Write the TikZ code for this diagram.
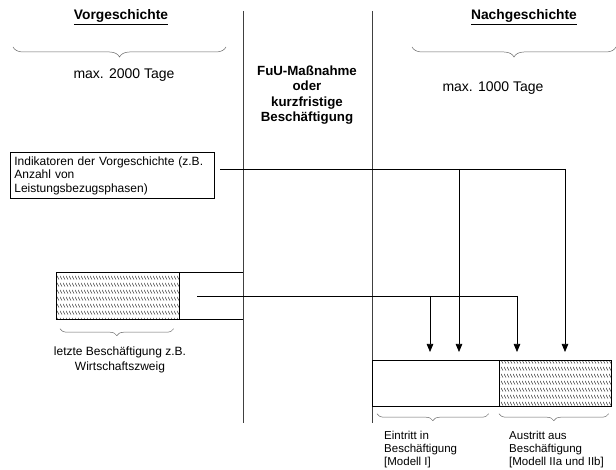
\documentclass[tikz,border=0pt]{standalone}
\usepackage{fontspec}
\setmainfont{Liberation Sans}
\usepackage{tikz}
\usetikzlibrary{arrows.meta,positioning,calc,decorations.pathreplacing,patterns}
\pgfdeclarepatternformonly{rowhatch}{\pgfpointorigin}{\pgfqpoint{3pt}{7pt}}{\pgfqpoint{3pt}{7pt}}{
  \pgfsetlinewidth{0.6pt}
  \pgfpathmoveto{\pgfqpoint{0pt}{5.8pt}}
  \pgfpathlineto{\pgfqpoint{2.6pt}{1.6pt}}
  \pgfusepath{stroke}}
\newcommand{\figtxt}{\fontsize{12}{13.5}\selectfont}
\newcommand{\figsml}{\fontsize{11.5}{13}\selectfont}
\newcommand{\figbig}{\fontsize{14}{16}\selectfont}
\newcommand{\figmid}{\fontsize{13.3}{15.5}\selectfont\bfseries}
\tikzset{
  >={Triangle[length=8pt,width=6.5pt]},
  bar/.style   ={rectangle, draw, line width=0.7pt, inner sep=0pt,
                 minimum height=47pt},
  hatchbar/.style={bar, pattern=rowhatch, pattern color=black!80},
  ibox/.style  ={rectangle, draw, line width=0.7pt, inner sep=4pt,
                 font=\figtxt, align=left, text width=196pt,
                 minimum height=46pt},
  lbl/.style   ={font=\figbig, align=center, inner sep=1pt},
  note/.style  ={font=\figsml, align=left, inner sep=1pt},
  head/.style  ={font=\fontsize{13.8}{16}\selectfont\bfseries, inner sep=1pt},
  mid/.style   ={font=\figmid, align=center, inner sep=1pt},
  sep/.style   ={draw, line width=0.6pt, black!75},
  ln/.style    ={draw, line width=0.7pt},
  con/.style   ={->, draw, line width=0.7pt},
  brc/.style   ={draw, line width=0.5pt, black!60, decorate,
                 decoration={brace, mirror, amplitude=#1}},
  brc/.default=10pt,
}
\begin{document}
\begin{tikzpicture}[x=1pt,y=-1pt]
\useasboundingbox (0,0) rectangle (616,470);
\coordinate (s1t) at (243,11); \coordinate (s1b) at (243,423);
\coordinate (s2t) at (372,11); \coordinate (s2b) at (372,423);
\draw[sep] (s1t) -- (s1b);
\draw[sep] (s2t) -- (s2b);
\node[head] (vor)  at (121,17) {\underline{Vorgeschichte}};
\node[head] (nach) at (524,17) {\underline{Nachgeschichte}};
\coordinate (bv1) at (13,47);  \coordinate (bv2) at (226,47);
\coordinate (bn1) at (412,47); \coordinate (bn2) at (616,47);
\draw[brc] (bv1) -- (bv2);
\draw[brc] (bn1) -- (bn2);
\node[lbl] (tvor)  at (124,75) {max. 2000 Tage};
\node[lbl] (tnach) at (493,88) {max. 1000 Tage};
\node[mid] (fuu) at (307,95) {FuU-Maßnahme\\oder\\kurzfristige\\Beschäftigung};
\node[ibox, anchor=north west] (ind) at (10,152) {Indikatoren der Vorgeschichte (z.B.\\Anzahl von\\Leistungsbezugsphasen)};
\node[hatchbar, anchor=north west, minimum width=123pt] (last) at (56,272) {};
\draw[ln] (last.north east) -- (last.north east -| s1t);
\draw[ln] (last.south east) -- (last.south east -| s1t);
\draw[line width=1.4pt] (last.north east) -- (last.south east);
\draw[brc=7pt] ($(last.south west)+(4,9)$) -- ($(last.south east)+(-6,9)$);
\node[lbl, font=\fontsize{12}{15}\selectfont] (lastt) at (120,360) {letzte Beschäftigung z.B.\\Wirtschaftszweig};
\node[bar, anchor=north west, minimum width=127pt, minimum height=46pt] (ein) at (372,360) {};
\node[hatchbar, anchor=north west, minimum width=112pt, minimum height=46pt] (aus) at (499,360) {};
\draw[brc=7pt] ($(ein.south west)+(5,7)$) -- ($(ein.south east)+(-11,7)$);
\draw[brc=7pt] ($(aus.south west)+(0,7)$) -- ($(aus.south east)+(-3,7)$);
\node[note, anchor=west] (eint) at (383,450) {Eintritt in\\Beschäftigung\\{[Modell I]}};
\node[note, anchor=west] (aust) at (508,450) {Austritt aus\\Beschäftigung\\{[Modell IIa und IIb]}};
\coordinate (i0) at (220,169); \coordinate (i1) at (459,169); \coordinate (i2) at (565,169);
\coordinate (l0) at (197,296); \coordinate (l1) at (430,296); \coordinate (l2) at (517,296);
\draw[ln] (i0) -- (i2);
\draw[ln] (l0) -- (l2);
\draw[con] (l1) -- ($(l1 |- ein.north)+(0,-8)$);
\draw[con] (i1) -- ($(i1 |- ein.north)+(0,-8)$);
\draw[con] (l2) -- ($(l2 |- aus.north)+(0,-8)$);
\draw[con] (i2) -- ($(i2 |- aus.north)+(0,-8)$);
\end{tikzpicture}
\end{document}
